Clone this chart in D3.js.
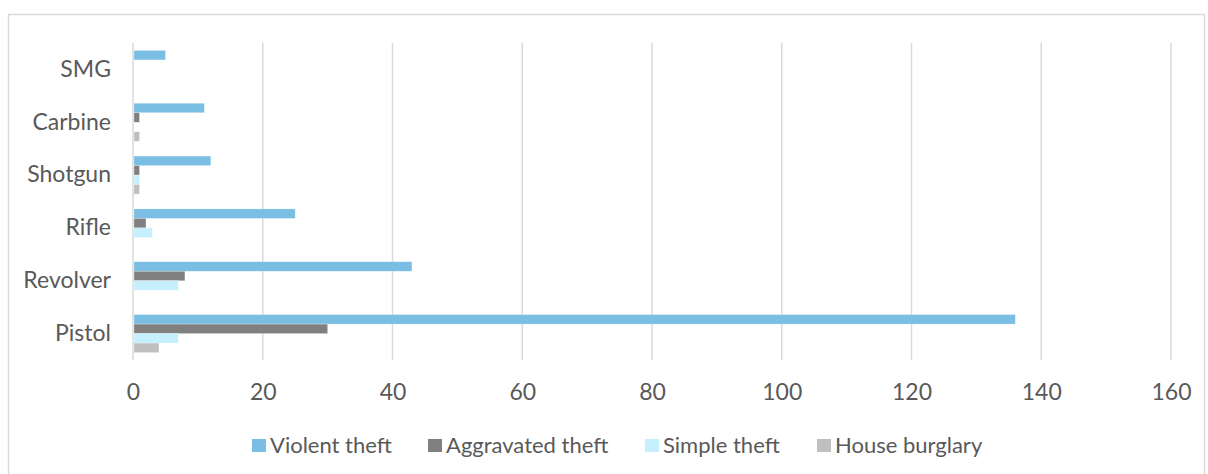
<!DOCTYPE html>
<html>
<head>
<meta charset="utf-8">
<script src="https://cdn.jsdelivr.net/npm/d3@7"></script>
<style>
  body { margin: 0; background: #fff; }
  text { font-family: Lato, "Open Sans", sans-serif; fill: #595959; }
</style>
</head>
<body>
<div id="chart"></div>
<script>
(function() {
  const categories = ["SMG", "Carbine", "Shotgun", "Rifle", "Revolver", "Pistol"];
  const seriesNames = ["Violent theft", "Aggravated theft", "Simple theft", "House burglary"];
  const violentTheft = [5, 11, 12, 25, 43, 136];
  const aggravatedTheft = [0, 1, 1, 2, 8, 30];
  const simpleTheft = [0, 0, 1, 3, 7, 7];
  const houseBurglary = [0, 1, 1, 0, 0, 4];
  const xTicks = [0, 20, 40, 60, 80, 100, 120, 140, 160];
  const colors = ["#7BBEE3", "#808080", "#C6EFFD", "#BFBFBF"];

  const seriesValues = [violentTheft, aggravatedTheft, simpleTheft, houseBurglary];

  const width = 1208, height = 474;
  const plot = { left: 133, right: 1171, top: 43, bottom: 360 };

  const svg = d3.select("#chart").append("svg")
    .attr("width", width)
    .attr("height", height);

  // chart border
  svg.append("rect")
    .attr("x", 8.5).attr("y", 14.5)
    .attr("width", 1196).attr("height", 480)
    .attr("fill", "none")
    .attr("stroke", "#D9D9D9")
    .attr("stroke-width", 1.5);

  const x = d3.scaleLinear().domain([0, 160]).range([plot.left, plot.right]);
  const y0 = d3.scaleBand().domain(categories).range([plot.top, plot.bottom]).padding(0);
  const y1 = d3.scaleBand().domain(seriesNames).range([0, y0.bandwidth()])
    .paddingInner(0).paddingOuter(0.78);

  // gridlines
  svg.append("g")
    .selectAll("line")
    .data(xTicks)
    .enter().append("line")
    .attr("x1", d => x(d)).attr("x2", d => x(d))
    .attr("y1", plot.top).attr("y2", plot.bottom)
    .attr("stroke", "#D9D9D9")
    .attr("stroke-width", 1.5);

  // bars
  const rows = categories.map(function(c, i) {
    return { cat: c, vals: seriesNames.map((s, j) => ({ s: s, v: seriesValues[j][i], j: j })) };
  });

  const groups = svg.append("g").selectAll("g")
    .data(rows)
    .enter().append("g")
    .attr("transform", d => "translate(0," + y0(d.cat) + ")");

  groups.selectAll("rect")
    .data(d => d.vals.filter(e => e.v > 0))
    .enter().append("rect")
    .attr("x", x(0) + 1)
    .attr("y", d => y1(d.s))
    .attr("width", d => x(d.v) - x(0) - 1)
    .attr("height", y1.bandwidth())
    .attr("fill", d => colors[d.j])
    .attr("stroke", "#fff")
    .attr("stroke-opacity", 0.5)
    .attr("stroke-width", 0.5);

  // x axis labels
  const xAxis = d3.axisBottom(x).tickValues(xTicks).tickSize(0).tickPadding(0);
  const gx = svg.append("g")
    .attr("transform", "translate(0," + (plot.bottom + 32) + ")")
    .call(xAxis);
  gx.select(".domain").remove();
  gx.selectAll("text")
    .attr("dy", "0.35em")
    .style("font-size", "23px")
    .attr("fill", "#595959");

  // category labels
  const yAxis = d3.axisLeft(y0).tickSize(0).tickPadding(22);
  const gy = svg.append("g")
    .attr("transform", "translate(" + plot.left + ",0)")
    .call(yAxis);
  gy.select(".domain").remove();
  gy.selectAll("text")
    .style("font-size", "23px")
    .attr("fill", "#595959");

  // legend
  const legendX = [252, 428, 645, 817];
  const legend = svg.append("g").selectAll("g")
    .data(seriesNames)
    .enter().append("g")
    .attr("transform", (d, i) => "translate(" + legendX[i] + ",439)");
  legend.append("rect")
    .attr("width", 14).attr("height", 13)
    .attr("fill", (d, i) => colors[i]);
  legend.append("text")
    .attr("x", 18)
    .attr("y", 6)
    .attr("dy", "0.35em")
    .style("font-size", "22px")
    .text(d => d);
})();
</script>
</body>
</html>
